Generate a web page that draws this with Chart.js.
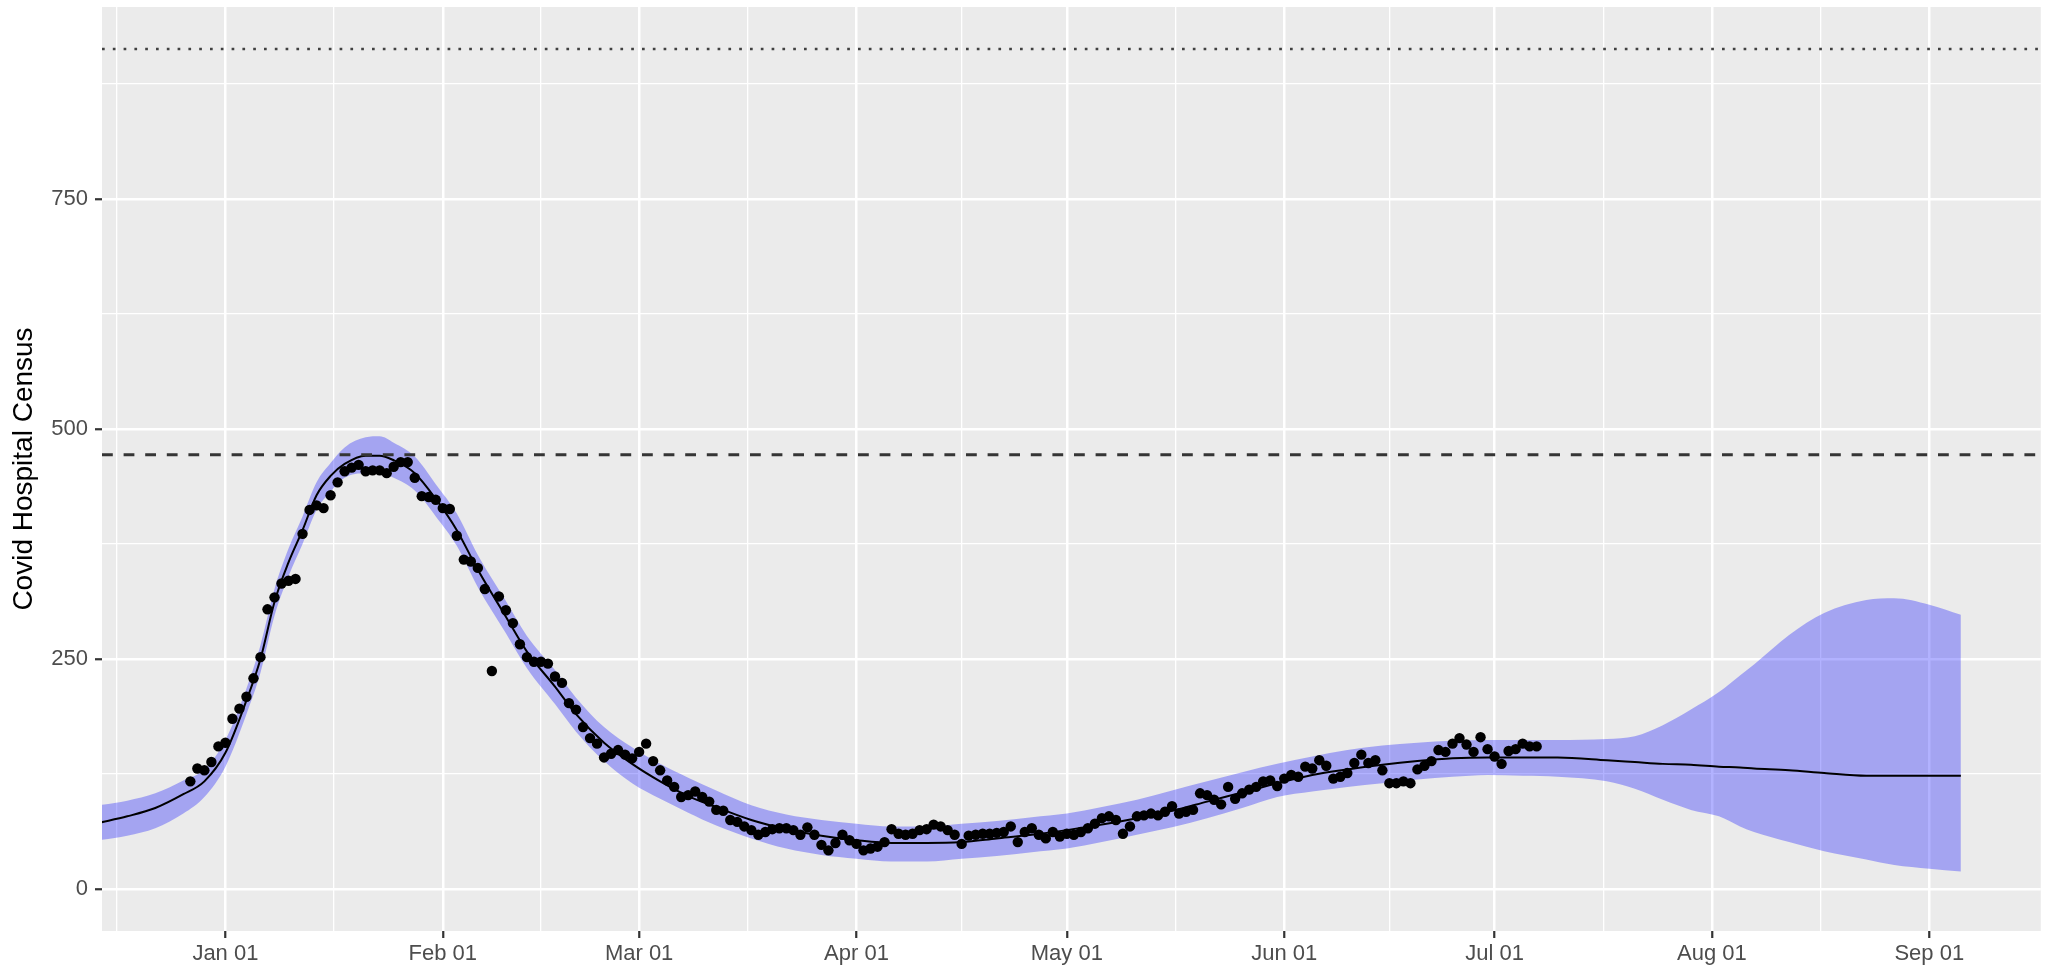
<!DOCTYPE html>
<html>
<head>
<meta charset="utf-8">
<title>Covid Hospital Census</title>
<script src="https://cdn.jsdelivr.net/npm/chart.js@4.4.1/dist/chart.umd.min.js"></script>
<style>
  html, body { margin: 0; padding: 0; background: #ffffff; }
  #wrap { width: 2046px; height: 968px; }
</style>
</head>
<body>
<div id="wrap"><canvas id="censusChart"></canvas></div>
<script>
// Day numbers count from Jan 01 (day 0)

// Observed daily census, one value per day starting Dec 27 (day -5)
const obsFirstDay = -5;
const obsCensus = [
  117, 131, 129, 138, 155, 159, 185, 196, 209, 229,
  252, 304, 317, 332, 335, 337, 386, 412, 417, 414,
  428, 442, 454, 458, 461, 454, 455, 455, 452, 459,
  464, 464, 447, 427, 426, 423, 414, 413, 384, 358,
  356, 349, 326, 237, 318, 303, 289, 266, 252, 247,
  247, 245, 231, 224, 202, 195, 176, 164, 158, 143,
  147, 151, 146, 142, 149, 158, 139, 129, 118, 111,
  100, 102, 106, 100, 95, 86, 85, 75, 73, 68,
  64, 59, 62, 65, 66, 66, 64, 59, 67, 59,
  48, 42, 50, 59, 53, 49, 42, 44, 46, 51,
  65, 60, 59, 60, 64, 65, 70, 68, 64, 59,
  49, 58, 59, 60, 60, 61, 62, 68, 51, 62,
  66, 59, 55, 62, 57, 60, 59, 62, 66, 71,
  77, 79, 75, 60, 68, 79, 80, 82, 80, 84,
  90, 82, 84, 86, 104, 102, 97, 92, 111, 98,
  104, 108, 111, 117, 118, 112, 120, 124, 122, 133,
  131, 140, 134, 120, 122, 126, 137, 146, 137, 140,
  129, 115, 115, 117, 115, 130, 134, 139, 151, 149,
  158, 164, 157, 149, 165, 152, 144, 136, 150, 152,
  158, 155, 155
];

// Model fit (median) and uncertainty band, sampled at these days
const fitDays = [
  -18, -14, -10, -6, -3, 0, 3, 5, 7, 9, 11, 13, 15, 17, 20, 22, 24, 27, 30, 33,
  36, 40, 43, 47, 50, 54, 58, 62, 66, 70, 75, 80, 85, 90, 95, 100, 105, 110, 115, 120,
  125, 130, 135, 140, 145, 150, 155, 160, 165, 170, 175, 180, 185, 190, 197, 201, 205, 209, 213, 216,
  218, 223, 228, 234, 238, 243, 247.5
];
const fitCensus = [
  72, 79, 88, 103, 117, 148, 205, 250, 312, 355, 390, 428, 449, 462, 471, 471, 466, 452, 424, 390,
  347, 296, 258, 220, 190, 159, 136, 117, 101, 89, 75, 65, 58, 53, 50, 50, 51, 55, 59, 64,
  70, 77, 85, 95, 105, 115, 124, 130, 135, 139, 142, 143, 143, 143, 140, 138, 136, 135, 133, 132,
  131, 129, 126, 123, 123, 123, 123
];
const bandUpper = [
  91, 96, 104, 118, 130, 162, 218, 265, 326, 370, 405, 442, 463, 480, 491, 492, 485, 470, 440, 408,
  363, 313, 275, 238, 208, 176, 154, 136, 121, 107, 91, 81, 75, 71, 68, 68, 71, 74, 78, 82,
  89, 97, 107, 117, 127, 136, 144, 151, 156, 159, 161, 162, 162, 162, 163, 166, 178, 195, 214, 232,
  244, 276, 300, 314, 316, 309, 298
];
const bandLower = [
  53, 58, 66, 82, 100, 133, 190, 235, 297, 340, 375, 412, 432, 447, 452, 452, 447, 433, 405, 373,
  328, 278, 240, 201, 171, 139, 115, 98, 83, 69, 55, 44, 37, 33, 30, 30, 33, 36, 40, 44,
  51, 59, 67, 77, 88, 100, 106, 111, 115, 119, 122, 124, 123, 122, 117, 109, 97, 86, 79, 68,
  62, 51, 41, 32, 26, 22, 19
];

// Reference lines
const surgeLevel = 472;
const capacityLevel = 913;

// Axis ticks
const monthDays = [0, 31, 59, 90, 120, 151, 181, 212, 243];
const monthLabels = ['Jan 01', 'Feb 01', 'Mar 01', 'Apr 01', 'May 01', 'Jun 01', 'Jul 01', 'Aug 01', 'Sep 01'];
const midMonthDays = [-15.5, 15.5, 45, 74.5, 105, 135.5, 166, 196.5, 227.5];
const yMajorTicks = [0, 250, 500, 750];
const yMinorTicks = [125, 375, 625, 875];

const xMin = -17.6;
const xMax = 258.9;
const yMin = -45.65;
const yMax = 958.65;

const FONT = '"Liberation Sans", Arial, sans-serif';

const obsPoints = obsCensus.map((v, i) => ({ x: obsFirstDay + i, y: v }));
const fitPoints = fitDays.map((d, i) => ({ x: d, y: fitCensus[i] }));
const upperPoints = fitDays.map((d, i) => ({ x: d, y: bandUpper[i] }));
const lowerPoints = fitDays.map((d, i) => ({ x: d, y: bandLower[i] }));

function isMajorX(tick) { return tick && monthDays.includes(tick.value); }
function isMajorY(tick) { return tick && yMajorTicks.includes(tick.value); }

// grey panel behind the grid, like ggplot's theme_grey
const panelBackground = {
  id: 'panelBackground',
  beforeDraw(chart) {
    const { ctx, chartArea: a } = chart;
    ctx.save();
    ctx.fillStyle = '#ffffff';
    ctx.fillRect(0, 0, chart.width, chart.height);
    ctx.fillStyle = '#EBEBEB';
    ctx.fillRect(a.left, a.top, a.right - a.left, a.bottom - a.top);
    ctx.restore();
  }
};

const ctx = document.getElementById('censusChart').getContext('2d');
new Chart(ctx, {
  type: 'line',
  data: {
    datasets: [
      {
        label: 'Capacity',
        data: [{ x: xMin, y: capacityLevel }, { x: xMax, y: capacityLevel }],
        borderColor: '#404040',
        borderWidth: 2.7,
        borderDash: [2.7, 8.1],
        pointRadius: 0,
        order: 0
      },
      {
        label: 'Surge',
        data: [{ x: xMin, y: surgeLevel }, { x: xMax, y: surgeLevel }],
        borderColor: '#353535',
        borderWidth: 3,
        borderDash: [10.8, 10.8],
        pointRadius: 0,
        order: 1
      },
      {
        label: 'Observed',
        data: obsPoints,
        showLine: false,
        pointRadius: 5.2,
        pointBackgroundColor: '#000000',
        pointBorderWidth: 0,
        order: 2
      },
      {
        label: 'Fitted',
        data: fitPoints,
        borderColor: '#000000',
        borderWidth: 2,
        pointRadius: 0,
        cubicInterpolationMode: 'monotone',
        order: 3
      },
      {
        label: 'Upper',
        data: upperPoints,
        borderColor: 'rgba(0,0,0,0)',
        borderWidth: 0,
        pointRadius: 0,
        cubicInterpolationMode: 'monotone',
        fill: '+1',
        backgroundColor: 'rgba(0,0,255,0.3)',
        order: 4
      },
      {
        label: 'Lower',
        data: lowerPoints,
        borderColor: 'rgba(0,0,0,0)',
        borderWidth: 0,
        pointRadius: 0,
        cubicInterpolationMode: 'monotone',
        fill: false,
        order: 5
      }
    ]
  },
  options: {
    responsive: true,
    maintainAspectRatio: false,
    animation: false,
    events: [],
    layout: { padding: { top: 7, right: 0, bottom: 0, left: 0 } },
    plugins: {
      legend: { display: false },
      tooltip: { enabled: false }
    },
    scales: {
      x: {
        type: 'linear',
        min: xMin,
        max: xMax,
        afterBuildTicks: (scale) => {
          scale.ticks = midMonthDays.concat(monthDays).sort((a, b) => a - b).map(v => ({ value: v }));
        },
        afterFit: (scale) => {
          scale.height = 37;
          scale.paddingLeft = 0;
          scale.paddingRight = 0;
        },
        border: { display: false },
        grid: {
          color: '#ffffff',
          lineWidth: (c) => isMajorX(c.tick) ? 2.5 : 1.3,
          tickColor: (c) => isMajorX(c.tick) ? '#333333' : 'rgba(0,0,0,0)',
          tickWidth: 2.2,
          tickLength: 7
        },
        ticks: {
          autoSkip: false,
          maxRotation: 0,
          padding: 3,
          color: '#4D4D4D',
          font: { family: FONT, size: 22 },
          callback: (value) => {
            const i = monthDays.indexOf(value);
            return i >= 0 ? monthLabels[i] : '';
          }
        }
      },
      y: {
        type: 'linear',
        min: yMin,
        max: yMax,
        afterBuildTicks: (scale) => {
          scale.ticks = yMajorTicks.concat(yMinorTicks).sort((a, b) => a - b).map(v => ({ value: v }));
        },
        afterFit: (scale) => {
          scale.width = 102;
          scale.paddingTop = 0;
          scale.paddingBottom = 0;
        },
        border: { display: false },
        grid: {
          color: '#ffffff',
          lineWidth: (c) => isMajorY(c.tick) ? 2.5 : 1.3,
          tickColor: (c) => isMajorY(c.tick) ? '#333333' : 'rgba(0,0,0,0)',
          tickWidth: 2.2,
          tickLength: 7
        },
        ticks: {
          padding: 7,
          color: '#4D4D4D',
          font: { family: FONT, size: 22 },
          callback: (value) => yMajorTicks.includes(value) ? String(value) : ''
        },
        title: {
          display: true,
          text: 'Covid Hospital Census',
          color: '#000000',
          font: { family: FONT, size: 28 },
          padding: { top: 7, bottom: 0 }
        }
      }
    }
  },
  plugins: [panelBackground]
});
</script>
</body>
</html>
